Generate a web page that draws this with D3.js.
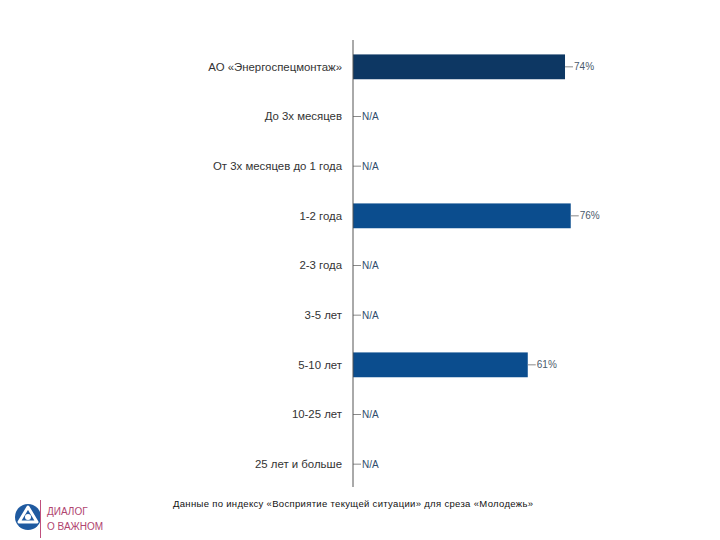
<!DOCTYPE html>
<html>
<head>
<meta charset="utf-8">
<script src="https://cdn.jsdelivr.net/npm/d3@7"></script>
<style>
  body { margin: 0; background: #fff; }
  svg { display: block; font-family: "Liberation Sans", Arial, sans-serif; }
</style>
</head>
<body>
<div class="chart"></div>
<script>
'use strict';
var categories = ['АО «Энергоспецмонтаж»', 'До 3х месяцев', 'От 3х месяцев до 1 года', '1-2 года',
  '2-3 года', '3-5 лет', '5-10 лет', '10-25 лет', '25 лет и больше'];
var values = [74, null, null, 76, null, null, 61, null, null];
var barColors = ['#0d3763', '#0b4d8e', '#0b4d8e', '#0b4d8e', '#0b4d8e', '#0b4d8e', '#0b4d8e', '#0b4d8e', '#0b4d8e'];
var footnote = 'Данные по индексу «Восприятие текущей ситуации» для среза «Молодежь»';

var data = categories.map(function(c, i) {
  return {name: c, value: values[i], color: barColors[i]};
});

var width = 720, height = 540;
var svg = d3.select('.chart').append('svg')
  .attr('width', width)
  .attr('height', height);

var x = d3.scaleLinear().domain([0, 100]).range([353, 639.5]);
var y = d3.scaleBand()
  .domain(categories)
  .range([42, 489])
  .paddingInner(0.5)
  .paddingOuter(0.25);

// category labels
svg.append('g')
  .selectAll('text')
  .data(data)
  .enter().append('text')
  .attr('x', 342)
  .attr('y', function(d) { return y(d.name) + y.bandwidth() / 2; })
  .attr('dy', '0.35em')
  .attr('text-anchor', 'end')
  .attr('font-size', 11.4)
  .attr('fill', '#333')
  .text(function(d) { return d.name; });

// bars
svg.selectAll('.bar')
  .data(data.filter(function(d) { return d.value !== null; }))
  .enter().append('rect')
  .attr('class', 'bar')
  .attr('x', x(0))
  .attr('y', function(d) { return y(d.name); })
  .attr('width', function(d) { return x(d.value) - x(0); })
  .attr('height', y.bandwidth())
  .attr('fill', function(d) { return d.color; });

// leader lines + value labels
var lab = svg.append('g').selectAll('g')
  .data(data)
  .enter().append('g')
  .attr('transform', function(d) {
    var v = d.value === null ? 0 : d.value;
    return 'translate(' + x(v) + ',' + (y(d.name) + y.bandwidth() / 2) + ')';
  });

lab.append('line')
  .attr('x1', 0).attr('x2', 8)
  .attr('stroke', '#8a8a8a')
  .attr('stroke-width', 1);

lab.append('text')
  .attr('x', 9)
  .attr('dy', '0.35em')
  .attr('font-size', 10)
  .attr('fill', function(d) { return d.value === null ? '#2f4c6c' : '#4a5a6c'; })
  .text(function(d) { return d.value === null ? 'N/A' : d.value + '%'; });

// axis line
svg.append('line')
  .attr('x1', x(0)).attr('x2', x(0))
  .attr('y1', 40).attr('y2', y.range()[1] - 2)
  .attr('stroke', '#555')
  .attr('stroke-width', 1);

// footnote
svg.append('text')
  .attr('x', 173)
  .attr('y', 507)
  .attr('font-size', 9.5)
  .attr('fill', '#111')
  .attr('textLength', 360)
  .attr('lengthAdjust', 'spacing')
  .text(footnote);

// logo
var logo = svg.append('g');
logo.append('circle')
  .attr('cx', 28).attr('cy', 517).attr('r', 13)
  .attr('fill', '#1f5aa0');
logo.append('path')
  .attr('d', 'M28,507 L37,522 L19,522 Z')
  .attr('fill', 'none')
  .attr('stroke', '#fff')
  .attr('stroke-width', 3)
  .attr('stroke-linejoin', 'round');
logo.append('circle')
  .attr('cx', 28).attr('cy', 517).attr('r', 3)
  .attr('fill', '#fff');
logo.append('line')
  .attr('x1', 40.5).attr('x2', 40.5)
  .attr('y1', 500).attr('y2', 538)
  .attr('stroke', '#c0507e')
  .attr('stroke-width', 1);
logo.append('text')
  .attr('x', 47).attr('y', 515)
  .attr('font-size', 10)
  .attr('fill', '#b0446f')
  .text('ДИАЛОГ');
logo.append('text')
  .attr('x', 47).attr('y', 530)
  .attr('font-size', 10)
  .attr('fill', '#b0446f')
  .text('О ВАЖНОМ');
</script>
</body>
</html>
